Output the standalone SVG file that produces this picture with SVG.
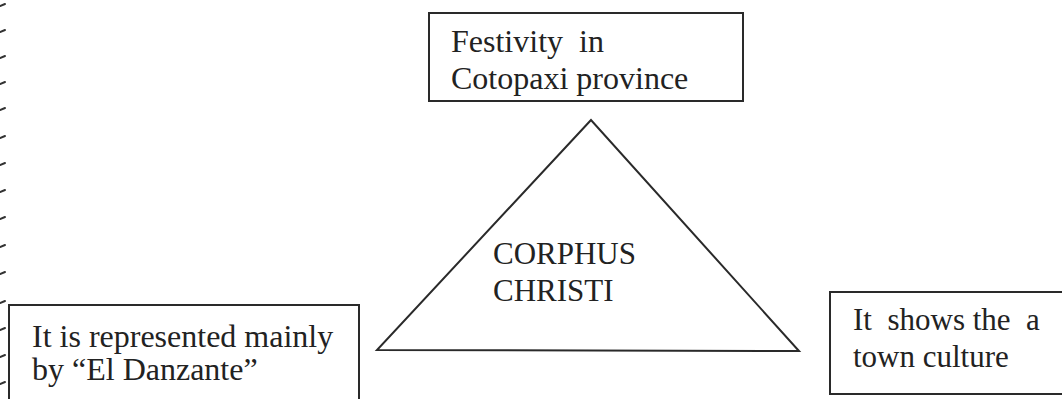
<svg xmlns="http://www.w3.org/2000/svg" width="1062" height="399" viewBox="0 0 1062 399">
<style>
.box{fill:#fff;stroke:#2a2a2a;stroke-width:2}
.tri{fill:#fff;stroke:#2a2a2a;stroke-width:2;stroke-linejoin:miter}
.t{font-family:"Liberation Serif","Times New Roman",serif;font-size:31px;fill:#222}
.l{font-size:32px}
.tick{stroke:#333;stroke-width:2;stroke-linecap:round}
</style>
<rect width="1062" height="399" fill="#fff"/>
<g id="margin-ticks">
<path class="tick" d="M0 6 L5 4 M0 32 L5 30 M0 58 L5 56 M0 84 L5 82 M0 110 L5 108 M0 138 L5 136 M0 165 L5 163 M0 192 L5 190 M0 219 L5 217 M0 247 L5 245 M0 274 L5 272 M0 303 L5 301 M0 330 L5 328 M0 357 L5 355 M0 384 L5 382"/>
</g>
<g id="connectors"></g>
<g id="node-center">
<polygon class="tri" points="591,120 377,350 799,351"/>
<text class="t" x="493" y="264">CORPHUS</text>
<text class="t" x="493" y="301">CHRISTI</text>
</g>
<g id="node-top">
<rect class="box" x="429" y="13" width="314" height="88"/>
<text class="t l" x="451" y="52" xml:space="preserve">Festivity  in</text>
<text class="t l" x="451" y="89">Cotopaxi province</text>
</g>
<g id="node-left">
<rect class="box" x="9" y="305" width="350" height="110"/>
<text class="t l" x="32" y="347">It is represented mainly</text>
<text class="t l" x="32" y="380">by “El Danzante”</text>
</g>
<g id="node-right">
<rect class="box" x="830" y="292" width="250" height="102"/>
<text class="t" x="853" y="330" xml:space="preserve">It  shows the  a</text>
<text class="t" x="853" y="367">town culture</text>
</g>
</svg>
